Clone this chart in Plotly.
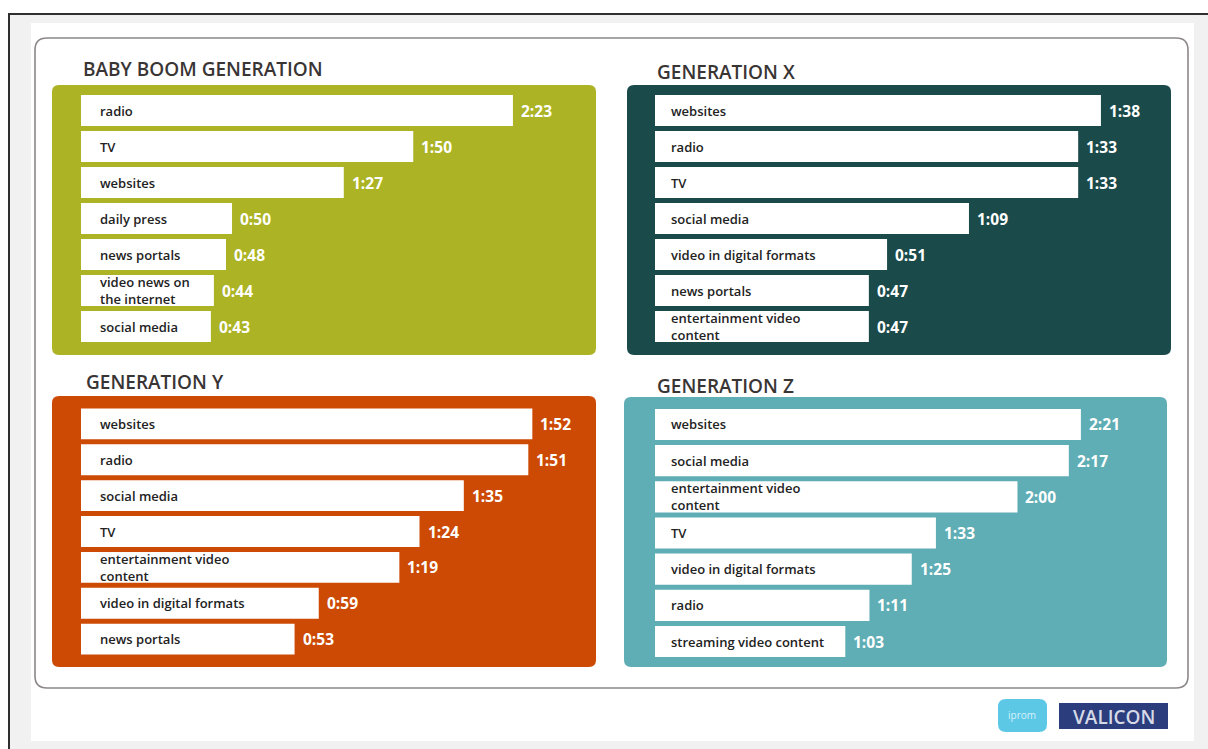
import plotly.graph_objects as go

# ---------------- data ----------------
panel_titles = ["BABY BOOM GENERATION", "GENERATION X", "GENERATION Y", "GENERATION Z"]

bb_categories = ["radio", "TV", "websites", "daily press", "news portals",
                 "video news on<br>the internet", "social media"]
bb_times = ["2:23", "1:50", "1:27", "0:50", "0:48", "0:44", "0:43"]

x_categories = ["websites", "radio", "TV", "social media", "video in digital formats",
                "news portals", "entertainment video<br>content"]
x_times = ["1:38", "1:33", "1:33", "1:09", "0:51", "0:47", "0:47"]

y_categories = ["websites", "radio", "social media", "TV",
                "entertainment video<br>content", "video in digital formats", "news portals"]
y_times = ["1:52", "1:51", "1:35", "1:24", "1:19", "0:59", "0:53"]

z_categories = ["websites", "social media", "entertainment video<br>content", "TV",
                "video in digital formats", "radio", "streaming video content"]
z_times = ["2:21", "2:17", "2:00", "1:33", "1:25", "1:11", "1:03"]


def to_units(t):
    a, b = t.split(":")
    return int(a) * 60 + int(b)


# ---------------- layout geometry (pixels) ----------------
W, H = 1208, 749


def fx(x):
    return x / W


def fy(y):
    return 1 - y / H


def rrect(x0, y0, x1, y1, r):
    """rounded rectangle path in paper coords from pixel box"""
    rx, ry = r / W, r / H
    X0, X1 = fx(x0), fx(x1)
    Y0, Y1 = fy(y0), fy(y1)  # Y0 top (bigger), Y1 bottom
    return (f"M {X0+rx},{Y0} L {X1-rx},{Y0} Q {X1},{Y0} {X1},{Y0-ry} "
            f"L {X1},{Y1+ry} Q {X1},{Y1} {X1-rx},{Y1} "
            f"L {X0+rx},{Y1} Q {X0},{Y1} {X0},{Y1+ry} "
            f"L {X0},{Y0-ry} Q {X0},{Y0} {X0+rx},{Y0} Z")


panels = [
    dict(cats=bb_categories, times=bb_times, color="#acb324",
         box=(52, 85, 596, 355), xdom=(81, 596), ydom=(92.5, 344.5), rmax=170.5,
         title_xy=(83, 69), lab_shift=17),
    dict(cats=x_categories, times=x_times, color="#1b4a4a",
         box=(627, 85, 1171, 355), xdom=(655, 1171), ydom=(92.5, 344.5), rmax=113.4,
         title_xy=(657, 72), lab_shift=14),
    dict(cats=y_categories, times=y_times, color="#cc4a04",
         box=(52, 396, 596, 667), xdom=(81, 596), ydom=(406, 657), rmax=127.8,
         title_xy=(86, 382), lab_shift=17),
    dict(cats=z_categories, times=z_times, color="#5fadb5",
         box=(624, 397, 1167, 667), xdom=(655, 1167), ydom=(406.4, 659.6), rmax=169.5,
         title_xy=(657, 386), lab_shift=14),
]

fig = go.Figure()
shapes = []
annotations = []

# page background / frame
shapes.append(dict(type="rect", xref="paper", yref="paper", x0=fx(9), x1=fx(W + 2),
                   y0=fy(H + 2), y1=fy(14), fillcolor="#f1f1f1", line=dict(width=0), layer="below"))
shapes.append(dict(type="line", xref="paper", yref="paper", x0=fx(8), x1=fx(W + 2),
                   y0=fy(14), y1=fy(14), line=dict(color="#2f2f2f", width=2), layer="below"))
shapes.append(dict(type="line", xref="paper", yref="paper", x0=fx(9), x1=fx(9),
                   y0=fy(14), y1=fy(H + 2), line=dict(color="#2f2f2f", width=2), layer="below"))
shapes.append(dict(type="rect", xref="paper", yref="paper", x0=fx(31), x1=fx(1194),
                   y0=fy(741), y1=fy(23), fillcolor="#ffffff", line=dict(width=0), layer="below"))
shapes.append(dict(type="path", xref="paper", yref="paper", path=rrect(35, 38, 1188, 688, 12),
                   fillcolor="#ffffff", line=dict(color="#8c8888", width=1.6), layer="below"))

for i, p in enumerate(panels):
    n = i + 1
    xa = "x" if n == 1 else f"x{n}"
    ya = "y" if n == 1 else f"y{n}"
    vals = [to_units(t) for t in p["times"]]
    x0, y0, x1, y1 = p["box"]
    shapes.append(dict(type="path", xref="paper", yref="paper", path=rrect(x0, y0, x1, y1, 7),
                       fillcolor=p["color"], line=dict(width=0), layer="below"))

    fig.add_trace(go.Bar(
        x=vals, y=p["cats"], orientation="h", width=0.86,
        marker=dict(color="#ffffff", line=dict(width=0)),
        xaxis=xa, yaxis=ya, hoverinfo="skip", showlegend=False,
    ))

    xkey = "xaxis" if n == 1 else f"xaxis{n}"
    ykey = "yaxis" if n == 1 else f"yaxis{n}"
    fig.update_layout({
        xkey: dict(domain=[fx(p["xdom"][0]), fx(p["xdom"][1])], range=[0, p["rmax"]],
                   visible=False, fixedrange=True, anchor=ya),
        ykey: dict(domain=[fy(p["ydom"][1]), fy(p["ydom"][0])], type="category",
                   categoryorder="array", categoryarray=p["cats"],
                   range=[len(p["cats"]) - 0.5, -0.5], visible=False, fixedrange=True, anchor=xa),
    })

    for c, v, t in zip(p["cats"], vals, p["times"]):
        annotations.append(dict(x=0, y=c, xref=xa, yref=ya, text=c, showarrow=False,
                                xanchor="left", yanchor="middle", xshift=p["lab_shift"], align="left",
                                font=dict(family="Open Sans", size=13, color="#222222", weight=600)))
        annotations.append(dict(x=v, y=c, xref=xa, yref=ya, text=t, showarrow=False,
                                xanchor="left", yanchor="middle", xshift=6,
                                font=dict(family="Open Sans", size=15.5, color="#ffffff", weight=700)))

    tx, ty = p["title_xy"]
    annotations.append(dict(x=fx(tx - 2), y=fy(ty), xref="paper", yref="paper", text=panel_titles[i],
                            showarrow=False, xanchor="left", yanchor="middle",
                            font=dict(family="Open Sans", size=19, color="#3a3535", weight=600)))

# logos
shapes.append(dict(type="path", xref="paper", yref="paper", path=rrect(998, 699, 1047, 732, 8),
                   fillcolor="#5cc8e6", line=dict(width=0), layer="below"))
annotations.append(dict(x=fx(1022), y=fy(715), xref="paper", yref="paper", text="iprom",
                        showarrow=False, xanchor="center", yanchor="middle",
                        font=dict(family="Open Sans", size=10, color="#d8f1f9")))
shapes.append(dict(type="rect", xref="paper", yref="paper", x0=fx(1059), x1=fx(1168),
                   y0=fy(729), y1=fy(703), fillcolor="#2b3d7d", line=dict(width=0), layer="below"))
annotations.append(dict(x=fx(1113.5), y=fy(716.5), xref="paper", yref="paper", text="VALICON",
                        showarrow=False, xanchor="center", yanchor="middle",
                        font=dict(family="Open Sans", size=19, color="#d6d9e6", weight=600)))

fig.update_layout(
    width=W, height=H, margin=dict(l=0, r=0, t=0, b=0),
    paper_bgcolor="#ffffff", plot_bgcolor="rgba(0,0,0,0)",
    shapes=shapes, annotations=annotations, bargap=0.14, hovermode=False,
    showlegend=False,
)

fig.write_html("out.html", config={"displayModeBar": False},
               post_script="document.body.style.margin='0px';document.body.style.padding='0px';document.body.style.overflow='hidden';")
